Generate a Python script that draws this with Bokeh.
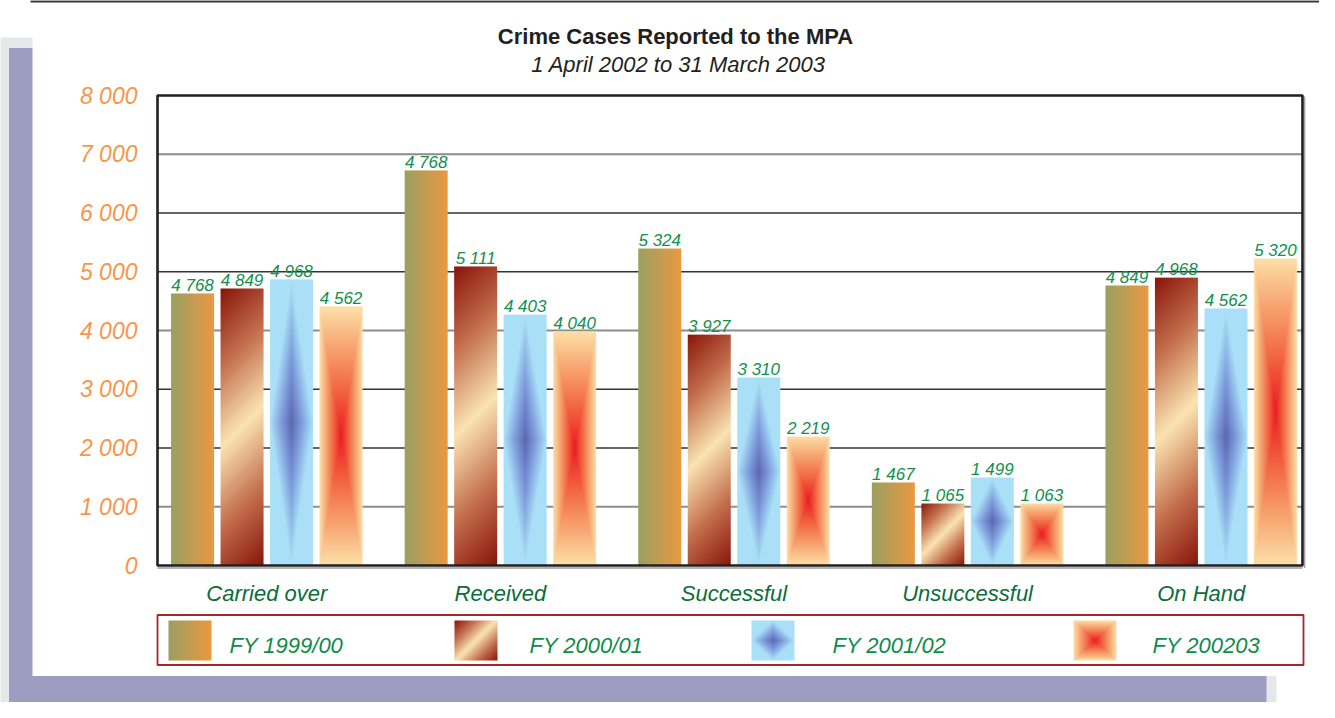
import numpy as np
from bokeh.plotting import figure
from bokeh.models import Range1d, LinearAxis, FixedTicker
from bokeh.core.properties import value
from bokeh.embed import file_html
from bokeh.resources import INLINE

# ---------------- data ----------------
TITLE = "Crime Cases Reported to the MPA"
SUBTITLE = "1 April 2002 to 31 March 2003"
CATEGORIES = ["Carried over", "Received", "Successful", "Unsuccessful", "On Hand"]
SERIES = ["FY 1999/00", "FY 2000/01", "FY 2001/02", "FY 200203"]

FY1999_00 = [4630, 6725, 5395, 1413, 4766]
FY2000_01 = [4715, 5090, 3930, 1055, 4900]
FY2001_02 = [4870, 4270, 3200, 1498, 4375]
FY2002_03 = [4410, 3985, 2195, 1055, 5225]

LABELS_1999_00 = ["4 768", "4 768", "5 324", "1 467", "4 849"]
LABELS_2000_01 = ["4 849", "5 111", "3 927", "1 065", "4 968"]
LABELS_2001_02 = ["4 968", "4 403", "3 310", "1 499", "4 562"]
LABELS_2002_03 = ["4 562", "4 040", "2 219", "1 063", "5 320"]

Y_TICKS = [0, 1000, 2000, 3000, 4000, 5000, 6000, 7000, 8000]

# ---------------- layout ----------------
W_PX, H_PX = 1319, 702
OFF = 8                       # page margin
X0_REF, XS = 157.5, 233.6     # px of x=0, px per category
Y0_REF, YS = 573.0, 470.0 / 8000.0


def dx(px):
    return (px - X0_REF) / XS


def dy(px):
    return (Y0_REF - px) / YS


BAR_W = 43.0 / XS
STEP = 49.5 / XS

GREEN_VAL = "#12904e"
GREEN_CAT = "#0b6d3a"
GREEN_LEG = "#0e8c48"
ORANGE = "#f7964a"
DARK = "#231f20"
FONT = "Liberation Sans"

STOPS = [
    [(0.0, (155, 160, 98)), (1.0, (235, 153, 66))],
    [(0.0, (138, 20, 10)), (0.5, (196, 112, 78)), (1.0, (251, 228, 178))],
    [(0.0, (94, 102, 178)), (0.5, (128, 160, 222)), (1.0, (170, 224, 247))],
    [(0.0, (236, 28, 36)), (0.35, (242, 102, 66)), (0.7, (248, 168, 116)), (1.0, (253, 225, 170))],
]


def ramp(t, stops):
    pos = [s[0] for s in stops]
    out = np.zeros(t.shape + (3,))
    for c in range(3):
        out[..., c] = np.interp(t, pos, [s[1][c] for s in stops])
    return out


def texture(kind, wpx, hpx):
    w = max(2, int(round(wpx)))
    h = max(2, int(round(hpx)))
    u = (np.arange(w) + 0.5) / w
    vt = (np.arange(h) + 0.5) / h
    U, VT = np.meshgrid(u, vt)
    if kind == 0:
        rgb = ramp(U, STOPS[0])
    elif kind == 1:
        t = (U * w + VT * h) / (w + h)
        rgb = ramp(1 - np.abs(2 * t - 1), STOPS[1])
    elif kind == 2:
        d = np.clip(np.abs(U - 0.5) * 2 + np.abs(VT - 0.5) * 2, 0, 1)
        rgb = ramp(d, STOPS[2])
    else:
        d = np.maximum(np.abs(U - 0.5) * 2, np.abs(VT - 0.5) * 2)
        rgb = ramp(d, STOPS[3])
    img = np.empty((h, w), dtype=np.uint32)
    view = img.view(dtype=np.uint8).reshape((h, w, 4))
    view[..., :3] = np.flipud(rgb).astype(np.uint8)
    view[..., 3] = 255
    return img


p = figure(width=W_PX, height=H_PX,
           x_range=Range1d(dx(OFF), dx(OFF + W_PX)),
           y_range=Range1d(dy(OFF + H_PX), dy(OFF)),
           output_backend="svg", toolbar_location=None,
           x_axis_location=None, y_axis_location=None,
           min_border=0, outline_line_color=None,
           background_fill_color="white", border_fill_color="white")
p.xgrid.visible = False
p.ygrid.visible = False

# background decoration (shadow frame)
p.quad(left=[dx(6)], right=[dx(1284)], top=[dy(45)], bottom=[dy(730)],
       fill_color="#e6e7e8", line_color=None)
p.quad(left=[dx(16.5)], right=[dx(1274)], top=[dy(55.5)], bottom=[dy(716)],
       fill_color="#9d9cc1", line_color=None)
p.quad(left=[dx(40)], right=[dx(1400)], top=[dy(-20)], bottom=[dy(683.5)],
       fill_color="white", line_color=None)
p.segment(x0=[dx(38)], x1=[dx(1400)], y0=[dy(8.8)], y1=[dy(8.8)],
          line_color="#333333", line_width=2.2)

# gridlines
PL, PR = dx(165), dx(1310)
grid_gray = [t for t in Y_TICKS[1:-1] if t % 3000 == 1000]
grid_dark = [t for t in Y_TICKS[1:-1] if t % 3000 != 1000]
p.segment(x0=[PL] * len(grid_dark), x1=[PR] * len(grid_dark), y0=grid_dark, y1=grid_dark,
          line_color="#333333", line_width=1.3)
p.segment(x0=[PL] * len(grid_gray), x1=[PR] * len(grid_gray), y0=grid_gray, y1=grid_gray,
          line_color="#8c8c8c", line_width=2.2)

# bars
ALL_VALUES = [FY1999_00, FY2000_01, FY2001_02, FY2002_03]
ALL_LABELS = [LABELS_1999_00, LABELS_2000_01, LABELS_2001_02, LABELS_2002_03]
n = len(CATEGORIES)
for k, vals in enumerate(ALL_VALUES):
    centers = [i + 0.5 + (k - 1.5) * STEP for i in range(n)]
    imgs = [texture(k, BAR_W * XS, v * YS) for v in vals]
    p.image_rgba(image=imgs, x=[c - BAR_W / 2 for c in centers], y=[0] * n,
                 dw=[BAR_W] * n, dh=vals)

# plot box
p.segment(x0=[PL], x1=[PR], y0=[dy(575.6)], y1=[dy(575.6)], line_color="#9a9a9a", line_width=1.5)
p.segment(x0=[dx(1312.2)], x1=[dx(1312.2)], y0=[dy(575.6)], y1=[dy(104)], line_color="#9a9a9a", line_width=1.2)
p.quad(left=[PL], right=[PR], bottom=[Y_TICKS[0]], top=[Y_TICKS[-1]],
       fill_color=None, line_color=DARK, line_width=2.6)

# value labels
for k, (vals, labs) in enumerate(zip(ALL_VALUES, ALL_LABELS)):
    centers = [i + 0.5 + (k - 1.5) * STEP for i in range(n)]
    p.text(x=centers, y=vals, text=labs, text_align="center", text_baseline="alphabetic",
           y_offset=-8, text_font=value(FONT), text_font_style="italic",
           text_font_size="17px", text_color=GREEN_VAL)

# title
p.text(x=[dx(683)], y=[dy(44)], text=[TITLE], text_align="center", text_baseline="alphabetic",
       text_font=value(FONT), text_font_style="bold", text_font_size="22px", text_color=DARK)
p.text(x=[dx(686)], y=[dy(72)], text=[SUBTITLE], text_align="center", text_baseline="alphabetic",
       text_font=value(FONT), text_font_style="italic", text_font_size="22px", text_color=DARK)

# axes
yaxis = LinearAxis(fixed_location=PL, ticker=FixedTicker(ticks=Y_TICKS),
                   major_label_overrides={t: f"{t:,}".replace(",", " ") for t in Y_TICKS},
                   axis_line_color=None, major_tick_line_color=None, minor_tick_line_color=None,
                   major_label_text_font=FONT, major_label_text_font_style="italic",
                   major_label_text_font_size="23px", major_label_text_color=ORANGE,
                   major_label_standoff=14)
p.add_layout(yaxis, "left")

cat_ticks = [i + 0.5 for i in range(n)]
xaxis = LinearAxis(fixed_location=0, ticker=FixedTicker(ticks=cat_ticks),
                   major_label_overrides={t: c for t, c in zip(cat_ticks, CATEGORIES)},
                   axis_line_color=None, major_tick_line_color=None, minor_tick_line_color=None,
                   major_label_text_font=FONT, major_label_text_font_style="italic",
                   major_label_text_font_size="22px", major_label_text_color=GREEN_CAT,
                   major_label_standoff=9)
p.add_layout(xaxis, "below")

# legend
p.quad(left=[PL], right=[dx(1311)], top=[dy(622.5)], bottom=[dy(672.5)],
       fill_color=None, line_color="#a3262b", line_width=1.8)
LEG_SW_X = [176, 462, 759, 1081]
LEG_TX_X = [237, 537, 840, 1160]
for k in range(4):
    img = texture(k, 43, 40)
    p.image_rgba(image=[img], x=[dx(LEG_SW_X[k])], y=[dy(668)], dw=[43 / XS], dh=[40 / YS])
p.text(x=[dx(v) for v in LEG_TX_X], y=[dy(653)] * 4, text=SERIES, text_align="left",
       text_baseline="alphabetic", text_font=value(FONT), text_font_style="italic",
       text_font_size="22px", text_color=GREEN_LEG)

open("out.html", "w").write(file_html(p, INLINE))
